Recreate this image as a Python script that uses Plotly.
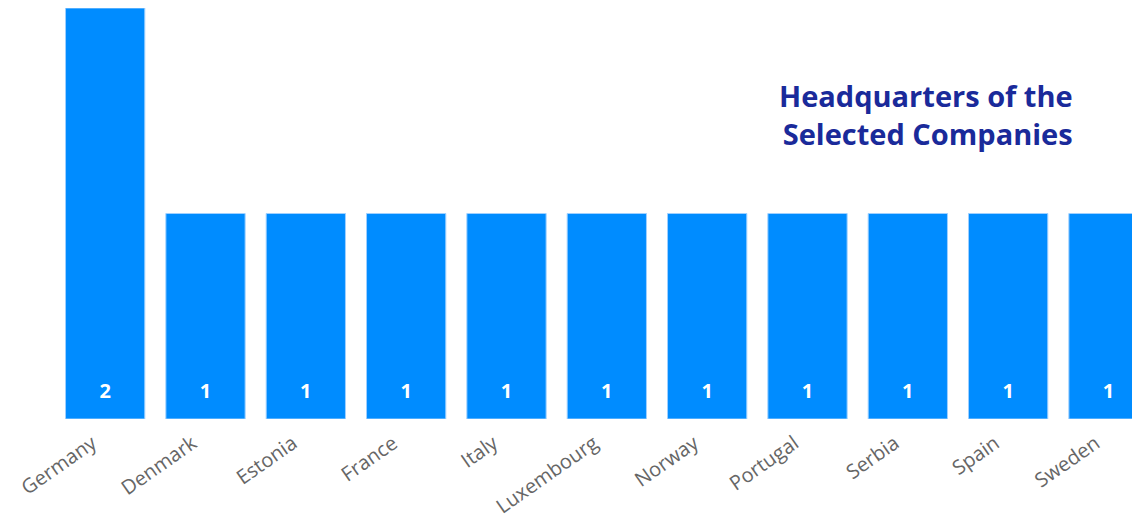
import plotly.graph_objects as go

countries = ["Germany", "Denmark", "Estonia", "France", "Italy", "Luxembourg",
             "Norway", "Portugal", "Serbia", "Spain", "Sweden"]
counts = [2, 1, 1, 1, 1, 1, 1, 1, 1, 1, 1]
title_text = "Headquarters of the<br>Selected Companies"

label_y = 0.125  # value label position (data units above the baseline)

fig = go.Figure()
fig.add_trace(go.Bar(
    x=countries, y=counts,
    marker=dict(color="#008CFF", line=dict(color="#9fd0ff", width=1)),
    hoverinfo="x+y",
))
fig.add_trace(go.Scatter(
    x=countries, y=[label_y] * len(countries), text=counts,
    mode="text", textposition="middle center",
    textfont=dict(family="Open Sans", size=20, color="white", weight="bold"),
    hoverinfo="skip",
))

fig.update_layout(
    width=1132, height=510,
    margin=dict(l=47, r=0, t=0, b=99, autoexpand=False),
    plot_bgcolor="white", paper_bgcolor="white",
    bargap=0.21,
    showlegend=False,
    xaxis=dict(range=[-0.5, 10.314], tickangle=-35, showgrid=False, zeroline=False,
               showline=False, ticks="", automargin=False,
               ticklabelshift=-13, ticklabelstandoff=8,
               tickfont=dict(family="Open Sans", size=20, color="#666666")),
    yaxis=dict(range=[0, 2], visible=False, showgrid=False, zeroline=False),
    annotations=[dict(
        text=title_text, xref="paper", yref="paper",
        x=(1075 - 55) / 1085, y=(419 - 114) / 411,
        xanchor="right", yanchor="middle", align="right", showarrow=False,
        font=dict(family="Open Sans", size=29, color="#1a2a9a", weight="bold"),
    )],
)

fig.write_html("out.html")
